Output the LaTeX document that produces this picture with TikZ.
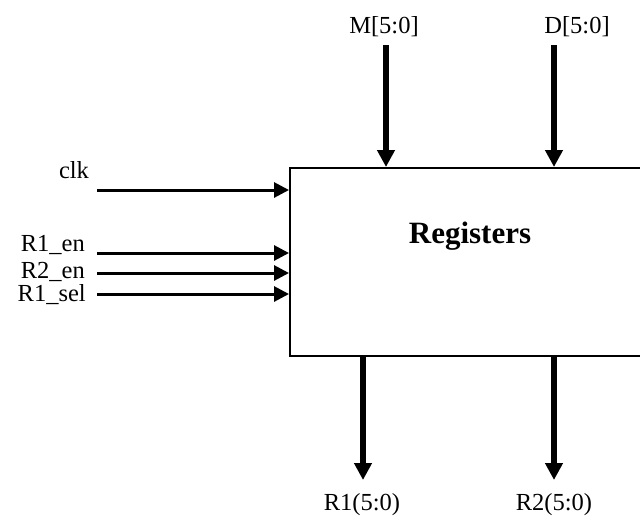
\documentclass[tikz,border=0pt]{standalone}
\usepackage{fontspec}
\setmainfont{Liberation Serif}
\usetikzlibrary{arrows.meta}
\tikzset{
  sig/.style={line width=3pt, -{Triangle[length=15pt,width=15pt]}},
  bus/.style={line width=6pt, -{Triangle[length=17pt,width=17pt]}},
  lbl/.style={inner sep=0pt, anchor=base, font=\fontsize{24.5}{28}\selectfont}
}
\begin{document}
\begin{tikzpicture}[x=1pt, y=-1pt]
    \clip (0,0) rectangle (640,515);
    % Register block, runs past the right edge
    \node[draw, line width=2pt, inner sep=0pt, minimum width=370pt, minimum height=188pt] (regs) at (475,262) {};
    \node[anchor=base, inner sep=0pt, font=\bfseries\fontsize{31}{36}\selectfont] (title) at (470,243) {Registers};

    % Control inputs on the left
    \node[lbl] (clk) at (74,178) {clk};
    \node[lbl, anchor=base east] (r1en) at (85,251) {R1\_en};
    \node[lbl, anchor=base east] (r2en) at (85,278) {R2\_en};
    \node[lbl, anchor=base east] (r1sel) at (86,301) {R1\_sel};
    \coordinate (clkin) at (97,190);
    \coordinate (r1enin) at (97,253);
    \coordinate (r2enin) at (97,273);
    \coordinate (r1selin) at (97,294);
    \draw[sig] (clkin) -- (clkin -| regs.west);
    \draw[sig] (r1enin) -- (r1enin -| regs.west);
    \draw[sig] (r2enin) -- (r2enin -| regs.west);
    \draw[sig] (r1selin) -- (r1selin -| regs.west);

    % Data inputs on top
    \node[lbl] (m) at (384,33.5) {M[5:0]};
    \node[lbl] (d) at (577,33.5) {D[5:0]};
    \coordinate (min) at (386,45);
    \coordinate (din) at (554,45);
    \draw[bus] (min) -- (min |- regs.north);
    \draw[bus] (din) -- (din |- regs.north);

    % Outputs at the bottom
    \node[lbl] (r1) at (362,510) {R1(5:0)};
    \node[lbl] (r2) at (554,510) {R2(5:0)};
    \coordinate (r1out) at (363,480);
    \coordinate (r2out) at (554,480);
    \draw[bus] (r1out |- regs.south) -- (r1out);
    \draw[bus] (r2out |- regs.south) -- (r2out);
\end{tikzpicture}
\end{document}
